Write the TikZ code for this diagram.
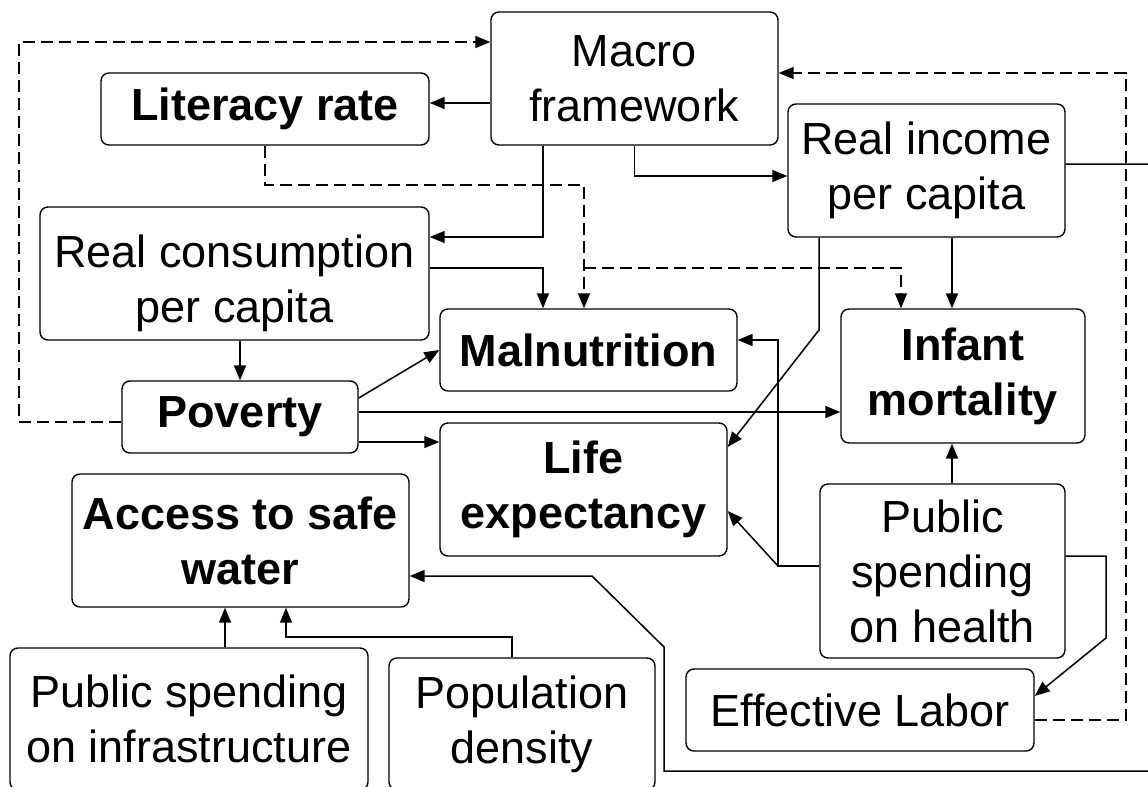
\documentclass[tikz,border=0pt]{standalone}
\usepackage{fontspec}
\setmainfont{Liberation Sans}
\usetikzlibrary{arrows.meta}

\begin{document}
\begin{tikzpicture}[x=0.5pt,y=-0.5pt,
        box/.style = {draw, rounded corners=4pt, line width=0.7pt, align=center, inner sep=0pt,
                      font=\fontsize{22.5}{27.5}\selectfont},
        boldbox/.style = {box, font=\fontsize{22.5}{27.5}\selectfont\bfseries},
        flow/.style = {line width=0.75pt, -{Triangle[length=7.5pt,width=6pt]}},
        flowdash/.style = {flow, dash pattern=on 6pt off 3pt}]
        \useasboundingbox (0,0) rectangle (1148,787);
        \clip (0,0) rectangle (1148,787);

        % Top row
        \node[box, minimum width=143.5pt, minimum height=66.5pt] (mac) at (634.5,78.5) {Macro\\framework};
        \node[boldbox, minimum width=164pt, minimum height=36pt] (lit) at (265,109) {Literacy rate};
        \node[box, minimum width=138.5pt, minimum height=66.5pt] (inc) at (926.5,170.5) {Real income\\per capita};
        \node[box, minimum width=194.5pt, minimum height=66.5pt] (cons) at (234.5,273.5) {\rule{0pt}{26.5pt}Real consumption\\per capita};

        % Outcomes
        \node[boldbox, minimum width=148.5pt, minimum height=41pt] (mal) at (588.5,350) {Malnutrition};
        \node[boldbox, minimum width=122pt, minimum height=67pt] (inf) at (963,376) {Infant\\mortality};
        \node[boldbox, minimum width=118pt, minimum height=36pt] (pov) at (240,417) {Poverty};
        \node[boldbox, minimum width=143.5pt, minimum height=66.5pt] (life) at (583.5,489.5) {Life\\expectancy};
        \node[boldbox, minimum width=168.5pt, minimum height=66.5pt] (water) at (240.5,540.5) {Access to safe\\water};

        % Bottom row
        \node[box, minimum width=122.5pt, minimum height=87pt] (health) at (942.5,571) {Public\\spending\\on health};
        \node[box, minimum width=174pt, minimum height=41pt] (labor) at (860,710) {Effective Labor};
        \node[box, minimum width=179pt, minimum height=71pt] (infra) at (189,719) {Public spending\\on infrastructure};
        \node[box, minimum width=133pt, minimum height=66pt] (dens) at (522,724) {Population\\density};

        % Bend points
        \coordinate (litjoin) at (584,185);
        \coordinate (litbranch) at (584,268);
        \coordinate (incbend) at (819,330);
        \coordinate (hbend) at (778,566);
        \coordinate (hcorner) at (1106,638);
        \coordinate (fbk) at (1126,73);
        \coordinate (loopL) at (19,42);
        \coordinate (dbend) at (286,637);
        \coordinate (povR) at ([yshift=2.5pt]pov.east);
        \coordinate (povL) at ([yshift=-12.5pt]pov.east);
        \coordinate (macL) at ([yshift=-12.25pt]mac.west);
        \coordinate (incS) at ([xshift=12.75pt]inc.south);
        \coordinate (healthN) at ([xshift=4.75pt]health.north);
        \coordinate (infraN) at ([xshift=18pt]infra.north);

        % From macro framework
        \draw[flow] (macL) -- (macL -| lit.east);
        \draw[flow] ([xshift=-45.75pt]mac.south) |- ([yshift=18.25pt]cons.east);
        \draw[flow] (mac.south) |- ([yshift=-2.75pt]inc.west);

        % Literacy rate
        \draw[flowdash] (lit.south) |- (litjoin) -- ([xshift=-2.25pt]mal.north);
        \draw[flowdash] (litbranch) -| ([xshift=-31pt]inf.north);

        % Real consumption and poverty
        \draw[flow] ([yshift=2.75pt]cons.east) -| ([xshift=-22.75pt]mal.north);
        \draw[flow] (pov.north |- cons.south) -- (pov.north);
        \draw[flow] ([yshift=9.5pt]pov.east) -- (mal.west);
        \draw[flow] (povR) -- (povR -| inf.west);
        \draw[flow] (povL) -- (povL -| life.west);
        \draw[flowdash] ([yshift=-2.5pt]pov.west) -| (loopL) -- ([yshift=18.25pt]mac.west);

        % Real income
        \draw[flow] ([xshift=-53.75pt]inc.south) -- (incbend) -- ([yshift=21.25pt]life.east);
        \draw[flow] (incS) -- (incS |- inf.north);
        \draw[flow] ([yshift=3.25pt]inc.east) -- (1170,164) -- (1170,771) -- (664,771) -- (664,647)
            -- (592,576) -- ([yshift=-17.75pt]water.east);

        % Public spending on health
        \draw[flow] ([yshift=2.5pt]health.west) -- (hbend) |- ([yshift=5pt]mal.east);
        \draw[flow] (hbend) -- ([yshift=-10.75pt]life.east);
        \draw[flow] (healthN) -- (healthN |- inf.south);
        \draw[flow] ([yshift=7.5pt]health.east) -| (hcorner) -- ([yshift=7pt]labor.east);

        % Effective labor feedback
        \draw[flowdash] ([yshift=-5pt]labor.east) -| (fbk) -- ([yshift=2.75pt]mac.east);

        % Safe water
        \draw[flow] (infraN) -- (infraN |- water.south);
        \draw[flow] ([xshift=-5pt]dens.north) |- (dbend) -- ([xshift=22.75pt]water.south);
    \end{tikzpicture}
\end{document}
